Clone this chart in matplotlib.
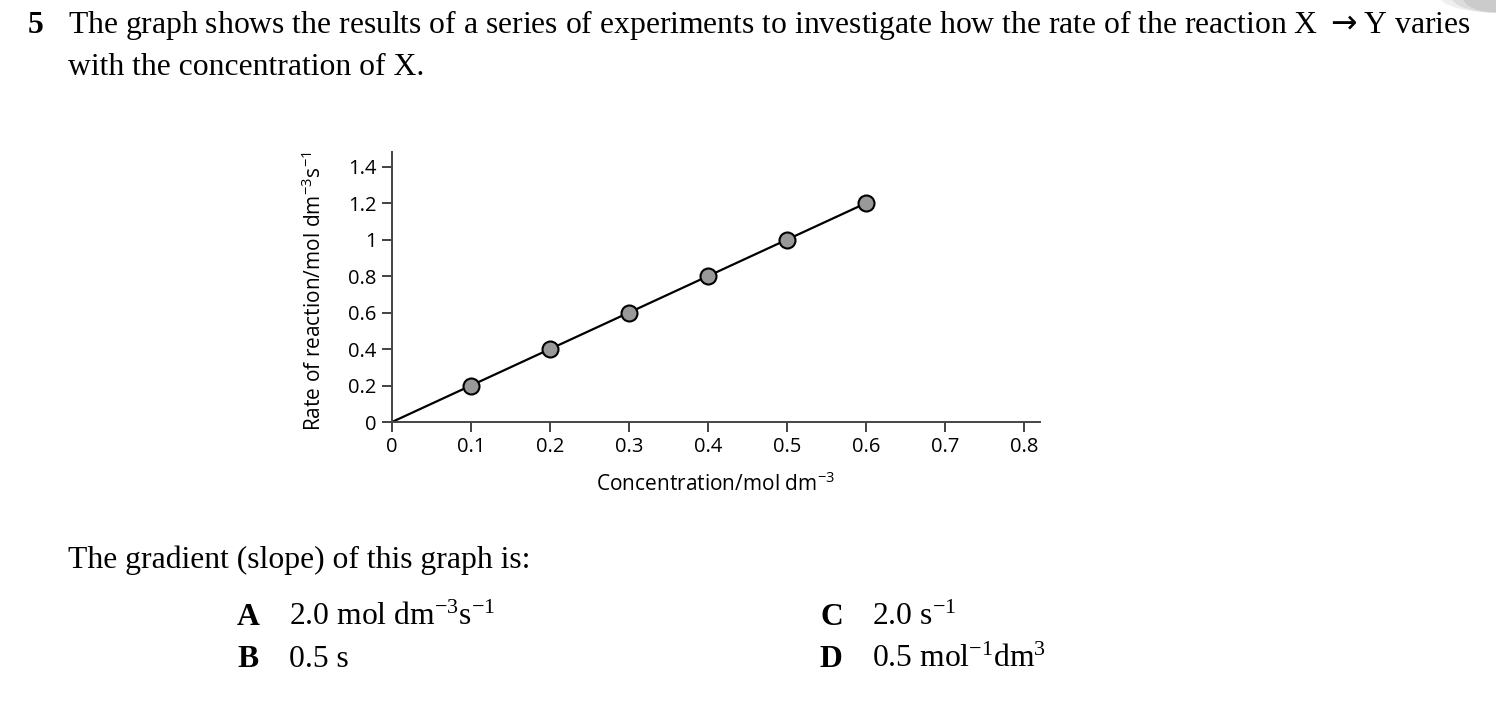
import matplotlib.pyplot as plt
from matplotlib.patches import Ellipse

# data
conc = [0.0, 0.1, 0.2, 0.3, 0.4, 0.5, 0.6]
rate = [0.0, 0.2, 0.4, 0.6, 0.8, 1.0, 1.2]
xticks = [0, 0.1, 0.2, 0.3, 0.4, 0.5, 0.6, 0.7, 0.8]
xlabels = ['0', '0.1', '0.2', '0.3', '0.4', '0.5', '0.6', '0.7', '0.8']
yticks = [0, 0.2, 0.4, 0.6, 0.8, 1.0, 1.2, 1.4]
ylabels = ['0', '0.2', '0.4', '0.6', '0.8', '1', '1.2', '1.4']

serif = 'Liberation Serif'
sans = 'Open Sans'

fig = plt.figure(figsize=(14.96, 7.23), dpi=100)
ax = fig.add_axes([392 / 1496, 1 - 422 / 723, 648 / 1496, 270 / 723])

ax.plot(conc, rate, color='black', lw=1.6, zorder=2)
ax.plot(conc[1:], rate[1:], 'o', ms=11.5, mfc='#999999', mec='black', mew=1.5, zorder=3)

ax.set_xlim(0, 0.82)
ax.set_ylim(0, 1.48)
ax.set_xticks(xticks)
ax.set_xticklabels(xlabels, family=sans, fontsize=14.5)
ax.set_yticks(yticks)
ax.set_yticklabels(ylabels, family=sans, fontsize=14.5)
ax.tick_params(length=7, width=1.3, color='#333333', pad=4)
for s in ['top', 'right']:
    ax.spines[s].set_visible(False)
for s in ['left', 'bottom']:
    ax.spines[s].set_color('#444444')
    ax.spines[s].set_linewidth(1.4)

ax.set_xlabel(r'Concentration/mol dm$\mathregular{^{-3}}$', family=sans, fontsize=15, labelpad=11)
ax.set_ylabel(r'Rate of reaction/mol dm$\mathregular{^{-3}}$s$\mathregular{^{-1}}$',
              family=sans, fontsize=15)
ax.yaxis.set_label_coords(-0.102, 0.486)

# question text
fs = 22.8
fig.text(28 / 1496, 1 - 33 / 723, '5', family=serif, fontsize=fs, weight='bold')
fig.text(68 / 1496, 1 - 33 / 723,
         r'The graph shows the results of a series of experiments to investigate how the rate of the reaction X $\rightarrow$Y varies',
         family=serif, fontsize=fs)
fig.text(68 / 1496, 1 - 75 / 723, 'with the concentration of X.', family=serif, fontsize=fs)
fig.text(68 / 1496, 1 - 568 / 723, 'The gradient (slope) of this graph is:', family=serif, fontsize=fs)

opts = [('A', r'2.0 mol dm$\mathregular{^{-3}}$s$\mathregular{^{-1}}$', 237, 625),
        ('B', '0.5 s', 237, 667),
        ('C', r'2.0 s$\mathregular{^{-1}}$', 820, 625),
        ('D', r'0.5 mol$\mathregular{^{-1}}$dm$\mathregular{^{3}}$', 820, 667)]
for letter, txt, x, y in opts:
    fig.text(x / 1496, 1 - y / 723, letter, family=serif, fontsize=fs, weight='bold')
    fig.text((x + 52) / 1496, 1 - y / 723, txt, family=serif, fontsize=fs)

# page-curl shadow in the corner
for w, a in [(0.075, 0.15), (0.06, 0.2), (0.045, 0.25)]:
    fig.patches.append(Ellipse((1.0, 1.005), w, 0.045, transform=fig.transFigure,
                               facecolor='#999999', edgecolor='none', alpha=a, zorder=0))

fig.savefig('out.png', dpi=100)
